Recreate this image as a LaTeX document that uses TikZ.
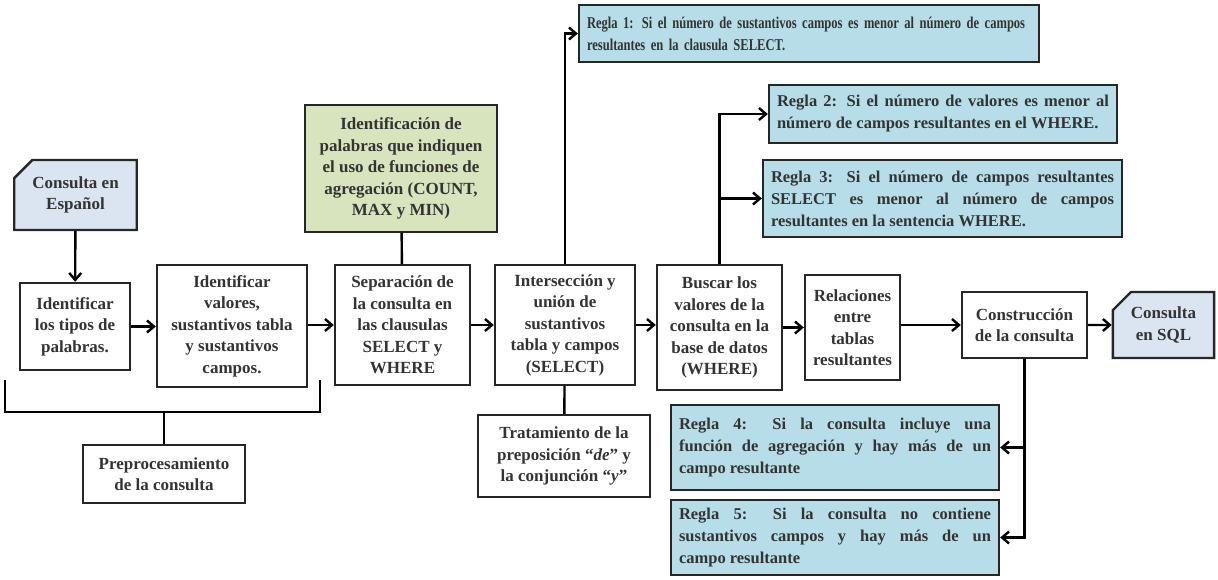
\documentclass[tikz,border=0pt]{standalone}
\usepackage{fontspec}
\setmainfont{Liberation Serif}
\newfontfamily\narrowfont[FakeStretch=0.76]{Liberation Serif}
\usepackage{xcolor}
\usetikzlibrary{positioning, arrows.meta, calc, shapes.misc}

\definecolor{regla}{HTML}{B7DDE8}
\definecolor{consul}{HTML}{DBE5F1}
\definecolor{agreg}{HTML}{D7E4BD}

\begin{document}
\begin{tikzpicture}[
    x=1pt, y=-1pt,
    >={Straight Barb[length=7pt, width=12pt]},
    line width=2.4pt,
    box/.style={draw=black!85, line width=2.4pt, align=center, inner sep=3pt,
        font=\bfseries\fontsize{17}{21.5}\selectfont, text=black!80},
    rulebox/.style={box, fill=regla, align=justify, inner xsep=8pt,
        font=\bfseries\fontsize{16.5}{22}\selectfont},
    iobox/.style={box, fill=consul, chamfered rectangle,
        chamfered rectangle corners=north west, chamfered rectangle xsep=15pt}
]
\useasboundingbox (0,0) rectangle (1218,579);

% entrada y preprocesamiento
\node[iobox, minimum width=117pt, minimum height=70pt](esp) at (75.5,195) {Consulta en\\Español};
\node[box, minimum width=110pt, minimum height=87pt](tipos) at (75,326.5) {Identificar\\los tipos de\\palabras.};
\node[box, minimum width=150pt, minimum height=122pt](valores) at (232,326) {Identificar\\valores,\\sustantivos tabla\\y sustantivos\\campos.};
\node[box, minimum width=162pt, minimum height=58pt](pre) at (164,474) {Preprocesamiento\\de la consulta};

% separacion e interseccion
\node[box, fill=agreg, minimum width=192pt, minimum height=127pt](agr) at (401,168.5) {Identificación de\\palabras que indiquen\\el uso de funciones de\\agregación (COUNT,\\MAX y MIN)};
\node[box, minimum width=135pt, minimum height=120pt](sep) at (402.5,325) {Separación de\\la consulta en\\las clausulas\\SELECT y\\WHERE};
\node[box, minimum width=140pt, minimum height=120pt](inter) at (565,325) {Intersección y\\unión de\\sustantivos\\tabla y campos\\(SELECT)};
\node[box, minimum width=172pt, minimum height=82pt](trat) at (564,456) {Tratamiento de la\\preposición “\textit{de}” y\\la conjunción “\textit{y}”};

% busqueda y construccion
\node[box, minimum width=125pt, minimum height=125pt](buscar) at (719.5,327.5) {Buscar los\\valores de la\\consulta en la\\base de datos\\(WHERE)};
\node[box, minimum width=95pt, minimum height=105pt](rel) at (852.5,327.5) {Relaciones\\entre\\tablas\\resultantes};
\node[box, minimum width=125pt, minimum height=66pt](cons) at (1024.5,325) {Construcción\\de la consulta};
\node[iobox, minimum width=93pt, minimum height=66pt](sql) at (1163.5,325) {Consulta\\en SQL};

% reglas
\node[rulebox, font=\narrowfont\bfseries\fontsize{16.5}{22}\selectfont, text width=444pt, align=left, minimum height=57pt](r1) at (809,33.5) {Regla 1: Si el número de sustantivos campos es menor al número de campos\\resultantes en la clausula SELECT.};
\node[rulebox, text width=332pt, minimum height=58pt](r2) at (943,114) {Regla 2: Si el número de valores es menor al\linebreak número de campos resultantes en el WHERE.};
\node[rulebox, text width=343pt, minimum height=77pt](r3) at (942.5,198.5) {Regla 3: Si el número de campos resultantes\linebreak SELECT es menor al número de campos\linebreak resultantes en la sentencia WHERE.};
\node[rulebox, text width=312pt, minimum height=85pt](r4) at (835,447.5) {Regla 4: Si la consulta incluye una\linebreak función de agregación y hay más de un\linebreak campo resultante};
\node[rulebox, text width=312pt, minimum height=75pt](r5) at (835,537.5) {Regla 5: Si la consulta no contiene\linebreak sustantivos campos y hay más de un\linebreak campo resultante};

% flujo principal
\draw[->] (esp) -- (tipos);
\draw[->] (tipos.east) -- (tipos.east -| valores.west);
\draw[->] (valores.east |- sep.west) -- (sep.west);
\draw[->] (sep) -- (inter);
\draw[->] (inter) -- (inter.east -| buscar.west);
\draw[->] (buscar.east |- rel.west) -- (rel.west);
\draw[->] (rel.east |- cons.west) -- (cons.west);
\draw[->] (cons) -- (sql);

% llaves y uniones
\coordinate (brA) at (5,380);
\coordinate (brB) at (320,380);
\draw (brA) |- (pre.north |- 0,412) -| (brB);
\draw (pre.north) -- (pre.north |- 0,412);
\draw (agr) -- (sep);
\draw (inter) -- (trat);

% ramas a las reglas
\draw[->] (inter.north) |- (r1.west);
\draw[->] (buscar.north) |- (r2.west);
\draw[->] (buscar.north |- r3.west) -- (r3.west);
\draw[->] (cons.south) |- (r5.east);
\draw[->] (cons.south |- r4.east) -- (r4.east);
\end{tikzpicture}
\end{document}
